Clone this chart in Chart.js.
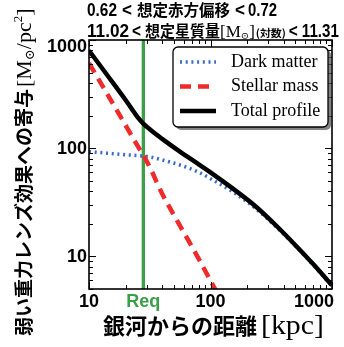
<!DOCTYPE html>
<html lang="ja">
<head>
<meta charset="utf-8">
<script src="https://cdn.jsdelivr.net/npm/chart.js"></script>
<style>
  html, body { margin: 0; padding: 0; background: #fff; }
  #wrap { width: 344px; height: 347px; }
</style>
</head>
<body>
<div id="wrap"><canvas id="chart" width="344" height="347"></canvas></div>
<script>
// --- データ ---
const distKpc      = [10, 14, 20, 25, 28, 32, 40, 56, 80, 104, 150, 237, 350, 500, 700, 1000];
const darkMatter   = [93, 90, 87, 85.5, 84.5, 83, 78, 70, 60, 51, 40, 27.5, 18.6, 12.5, 8.3, 5.3];
const stellarMass  = [610, 322, 163, 106, 86, 65, 38, 19.3, 9.5, 5.5, 2.6];
const totalProfile = [800, 480, 279, 195, 169, 148, 122, 93, 71, 58, 43, 28.8, 19.1, 12.7, 8.5, 5.4];
const reqKpc = 28;                 // 有効半径 Req
const xTickLabels = [10, 100, 1000];
const yTickLabels = [10, 100, 1000];
const xRange = [10, 1000];
const yRange = [5, 1000];

const GREEN = '#3a9f46';
const SANS = '"Liberation Sans", Arial, sans-serif';
const CJK = '"Noto Sans CJK JP", sans-serif';
const SERIF = '"Liberation Serif", "DejaVu Serif", serif';

function toPoints(xs, ys) {
  return ys.map((y, i) => ({ x: xs[i], y: y }));
}

// 複数フォントの文字列を横に並べて描く（w があればその幅に横方向だけ合わせる）
function drawSegments(ctx, segs, x, y) {
  for (const s of segs) {
    ctx.font = s.font;
    const nat = ctx.measureText(s.text).width;
    const sx = s.w ? s.w / nat : 1;
    ctx.save();
    ctx.translate(x, y + (s.dy || 0));
    ctx.scale(sx, 1);
    ctx.fillText(s.text, 0, 0);
    ctx.restore();
    x += nat * sx + (s.gap || 0);
  }
  return x;
}

function line(ctx, x1, y1, x2, y2) {
  ctx.beginPath(); ctx.moveTo(x1, y1); ctx.lineTo(x2, y2); ctx.stroke();
}

const decorPlugin = {
  id: 'decor',
  afterDatasetsDraw(chart) {
    const ctx = chart.ctx;
    const { left, right, top, bottom } = chart.chartArea;
    const xs = chart.scales.x, ys = chart.scales.y;
    ctx.save();

    // 内向きの目盛り（四辺）
    ctx.strokeStyle = '#000';
    ctx.lineWidth = 1;
    for (let d = 1; d <= 1000; d *= 10) {
      for (let m = 1; m <= 9; m++) {
        const v = d * m;
        const len = m === 1 ? 7 : 4;
        if (v >= xRange[0] && v <= xRange[1]) {
          const px = Math.round(xs.getPixelForValue(v)) + 0.5;
          line(ctx, px, bottom, px, bottom - len);
          line(ctx, px, top, px, top + len);
        }
        if (v >= yRange[0] && v <= yRange[1]) {
          const py = Math.round(ys.getPixelForValue(v)) + 0.5;
          line(ctx, left, py, left + len, py);
          line(ctx, right, py, right - len, py);
        }
      }
    }

    // 枠線
    ctx.lineWidth = 1.6;
    ctx.strokeRect(left, top, right - left, bottom - top);

    // 凡例（影つきの角丸ボックス）
    const bx = 173, by = 47, bw = 155, bh = 80;
    ctx.fillStyle = 'rgba(90,90,90,0.75)';
    ctx.beginPath(); ctx.roundRect(bx + 3, by + 3, bw, bh, 5); ctx.fill();
    ctx.fillStyle = '#fff';
    ctx.beginPath(); ctx.roundRect(bx, by, bw, bh, 5); ctx.fill();
    ctx.strokeStyle = '#000'; ctx.lineWidth = 1.3;
    ctx.stroke();

    const items = chart.data.datasets.filter(ds => ds.label);
    items.forEach((ds, i) => {
      const y = 62 + i * 24.5;
      ctx.strokeStyle = ds.borderColor;
      ctx.lineWidth = ds.borderWidth;
      ctx.setLineDash(ds.borderDash || []);
      line(ctx, 180, y, 216, y);
      ctx.setLineDash([]);
      ctx.fillStyle = '#000';
      ctx.font = '18px ' + SERIF;
      ctx.textBaseline = 'middle';
      ctx.textAlign = 'left';
      ctx.fillText(ds.label, 231, y);
    });

    // 目盛りラベル
    ctx.fillStyle = '#000';
    ctx.font = 'bold 18px ' + SANS;
    ctx.textBaseline = 'alphabetic';
    ctx.textAlign = 'center';
    for (const v of xTickLabels) {
      const t = String(v);
      const w = ctx.measureText(t).width;
      const px = Math.min(xs.getPixelForValue(v), right + 2 - w / 2);
      ctx.fillText(t, px, 307);
    }
    ctx.textAlign = 'right';
    ctx.textBaseline = 'middle';
    for (const v of yTickLabels) {
      const py = Math.max(ys.getPixelForValue(v), 46);
      ctx.fillText(String(v), 87, py + 1);
    }

    // Req ラベル
    ctx.fillStyle = GREEN;
    ctx.textAlign = 'center';
    ctx.textBaseline = 'alphabetic';
    ctx.fillText('Req', xs.getPixelForValue(reqKpc), 307);

    // タイトル（2行）
    ctx.fillStyle = '#000';
    ctx.textAlign = 'left';
    const latin = 'bold 19px ' + SANS;
    drawSegments(ctx, [
      { text: '0.62', font: latin, w: 30, gap: 5 },
      { text: '<', font: latin, w: 10, gap: 5 },
      { text: '想定赤方偏移', font: 'bold 16px ' + CJK, w: 93, gap: 5 },
      { text: '<', font: latin, w: 10, gap: 3 },
      { text: '0.72', font: latin, w: 29 }
    ], 87, 16);
    drawSegments(ctx, [
      { text: '11.02', font: latin, w: 42, gap: 3 },
      { text: '<', font: latin, w: 9, gap: 4 },
      { text: '想定星質量', font: 'bold 15.5px ' + CJK, w: 75, gap: 0 },
      { text: '[M', font: '17px ' + SERIF },
      { text: '⊙', font: '10px ' + SERIF, dy: 2 },
      { text: ']', font: '17px ' + SERIF, gap: 1 },
      { text: '(対数)', font: 'bold 10.5px ' + CJK, w: 30, gap: 3 },
      { text: '<', font: latin, w: 9, gap: 4 },
      { text: '11.31', font: latin, w: 37 }
    ], 87, 37);

    // x 軸タイトル
    drawSegments(ctx, [
      { text: '銀河からの距離', font: 'bold 22px ' + CJK, gap: 4 },
      { text: '[kpc]', font: '27px ' + SERIF, w: 63 }
    ], 103, 334);

    // y 軸タイトル（回転）
    ctx.translate(31, 336);
    ctx.rotate(-Math.PI / 2);
    drawSegments(ctx, [
      { text: '弱い重力レンズ効果への寄与', font: 'bold 19px ' + CJK, gap: 2 },
      { text: '[M', font: '22px ' + SERIF },
      { text: '⊙', font: '13px ' + SERIF, dy: 3 },
      { text: '/pc', font: '22px ' + SERIF },
      { text: '2', font: '13px ' + SERIF, dy: -9 },
      { text: ']', font: '22px ' + SERIF }
    ], 0, 0);

    ctx.restore();
  }
};

new Chart(document.getElementById('chart').getContext('2d'), {
  type: 'line',
  data: {
    datasets: [
      {
        label: 'Dark matter',
        data: toPoints(distKpc, darkMatter),
        borderColor: '#3a6cc6',
        borderWidth: 3.5,
        borderDash: [2, 3.7],
        order: 3
      },
      {
        label: 'Stellar mass',
        data: toPoints(distKpc, stellarMass),
        borderColor: '#ee2a2a',
        borderWidth: 4.5,
        borderDash: [11, 7],
        order: 2
      },
      {
        label: 'Total profile',
        data: toPoints(distKpc, totalProfile),
        borderColor: '#000',
        borderWidth: 4.5,
        order: 1
      },
      {
        // Req の縦線（凡例なし）
        data: [{ x: reqKpc, y: yRange[0] }, { x: reqKpc, y: yRange[1] }],
        borderColor: GREEN,
        borderWidth: 3.3,
        order: 4
      }
    ]
  },
  options: {
    responsive: false,
    animation: false,
    devicePixelRatio: 1,
    layout: { padding: { left: 89, top: 40, right: 12, bottom: 58 } },
    elements: {
      point: { radius: 0 },
      line: { cubicInterpolationMode: 'monotone', fill: false }
    },
    scales: {
      x: { type: 'logarithmic', min: xRange[0], max: xRange[1], display: false },
      y: { type: 'logarithmic', min: yRange[0], max: yRange[1], display: false }
    },
    plugins: {
      legend: { display: false },
      tooltip: { enabled: false }
    }
  },
  plugins: [decorPlugin]
});
</script>
</body>
</html>
